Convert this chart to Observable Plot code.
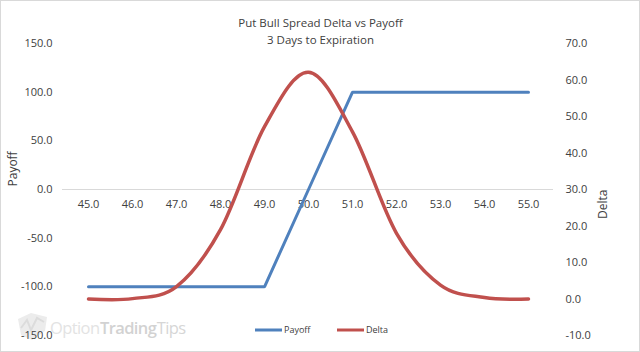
<!DOCTYPE html>
<html>
<head>
<meta charset="utf-8">
<script src="https://cdn.jsdelivr.net/npm/d3@7"></script>
<script src="https://cdn.jsdelivr.net/npm/@observablehq/plot@0.6"></script>
<style>
  html, body { margin: 0; padding: 0; background: #fff; }
  #chart { width: 640px; height: 352px; }
</style>
</head>
<body>
<div id="chart"></div>
<script>
// ---- data ----
const strikes = ["45.0","46.0","47.0","48.0","49.0","50.0","51.0","52.0","53.0","54.0","55.0"];
const payoff  = [-100, -100, -100, -100, -100, 0, 100, 100, 100, 100, 100];
const delta   = [0, 0.1, 3.4, 19, 47.2, 62.1, 45.8, 18, 3.8, 0.4, 0];
const payoffTicks = [-150, -100, -50, 0, 50, 100, 150];
const deltaTicks  = [-10, 0, 10, 20, 30, 40, 50, 60, 70];
const title = "Put Bull Spread Delta vs Payoff";
const subtitle = "3 Days to Expiration";
const seriesNames = ["Payoff", "Delta"];
const seriesColors = ["#4F81BD", "#C0504D"];
const watermarkParts = ["Option", "Trading", "Tips"];

// secondary axis mapping: delta [-10,70] -> payoff [-150,150]
const toP = d => (d - 30) * 3.75;
const fromP = p => p / 3.75 + 30;

const rows = strikes.map((s, i) => ({strike: s, payoff: payoff[i], delta: delta[i]}));
const textColor = "#404040";

const chart = Plot.plot({
  width: 640,
  height: 352,
  marginTop: 43,
  marginBottom: 17,
  marginLeft: 62,
  marginRight: 87,
  style: {fontFamily: "Open Sans", fontSize: "11px", color: textColor, background: "white", overflow: "visible"},
  x: {type: "point", domain: strikes, padding: 0.5, axis: null},
  y: {domain: [-150, 150], axis: null},
  marks: [
    Plot.ruleY([0], {stroke: "#d9d9d9", strokeWidth: 1}),
    Plot.axisY(payoffTicks, {anchor: "left", tickSize: 0, tickPadding: 10, tickFormat: d => d.toFixed(1), label: null, fill: textColor}),
    Plot.axisY(deltaTicks.map(toP), {anchor: "right", tickSize: 0, tickPadding: 12, tickFormat: p => fromP(p).toFixed(1), label: null, fill: textColor, textAnchor: "start"}),
    Plot.text(strikes, {x: d => d, y: 0, dy: 15, fill: textColor}),
    Plot.line(rows, {x: "strike", y: "payoff", stroke: seriesColors[0], strokeWidth: 3, strokeLinejoin: "miter"}),
    Plot.line(rows, {x: "strike", y: d => toP(d.delta), stroke: seriesColors[1], strokeWidth: 3.5, curve: "cardinal"}),
    Plot.text([title], {frameAnchor: "top-left", dx: 258, dy: -25, textAnchor: "middle", fill: textColor, fontSize: 11.5}),
    Plot.text([subtitle], {frameAnchor: "top-left", dx: 258, dy: -8, textAnchor: "middle", fill: textColor, fontSize: 11.5}),
    Plot.text(["Payoff"], {frameAnchor: "left", dx: -49, dy: -3, rotate: -90, fill: textColor, fontSize: 12}),
    Plot.text(["Delta"], {frameAnchor: "right", dx: 50, rotate: -90, fill: textColor, fontSize: 12})
  ]
});

document.getElementById("chart").appendChild(chart);
const svg = d3.select(chart);

// watermark (decorative)
const wm = svg.insert("g", ":first-child").attr("pointer-events", "none");
wm.append("path")
  .attr("d", "M18,319 L31,313 L47,317 L45,331 L32,340 L21,335 Z")
  .attr("fill", "#ececec");
wm.append("path")
  .attr("d", "M21,328 L27,320 L31,330 L37,318 L44,322")
  .attr("fill", "none").attr("stroke", "#dcdcdc").attr("stroke-width", 2);
const wmFills = ["#e3e3e3", "#d2d2d2", "#d6d6d6"];
const wmWeights = [400, 600, 400];
let wx = 50;
watermarkParts.forEach((part, i) => {
  const t = wm.append("text")
    .attr("x", wx).attr("y", 334).attr("text-anchor", "start")
    .attr("font-family", "Open Sans").attr("font-size", 16.5)
    .attr("letter-spacing", -0.6)
    .attr("font-weight", wmWeights[i]).attr("fill", wmFills[i]).text(part);
  wx += t.node().getComputedTextLength() + 0.5;
});

// legend
const lg = svg.append("g").attr("font-family", "Open Sans").attr("font-size", 9)
  .attr("fill", textColor).attr("text-anchor", "start");
const legendX = [255, 337];
seriesNames.forEach((name, i) => {
  lg.append("line").attr("x1", legendX[i]).attr("x2", legendX[i] + 27).attr("y1", 330).attr("y2", 330)
    .attr("stroke", seriesColors[i]).attr("stroke-width", 3);
  lg.append("text").attr("x", legendX[i] + 29).attr("y", 333).text(name);
});

// outer border
svg.append("rect").attr("x", 0.5).attr("y", 0.5).attr("width", 639).attr("height", 351)
  .attr("fill", "none").attr("stroke", "#d9d9d9");
</script>
</body>
</html>
